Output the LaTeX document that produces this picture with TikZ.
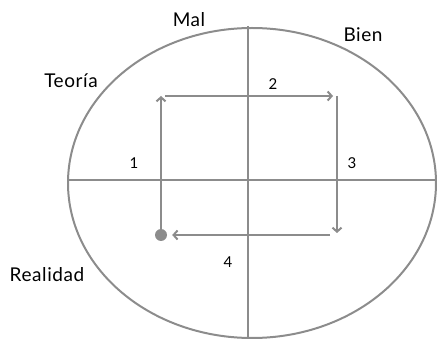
\documentclass[tikz,border=0pt]{standalone}
\usepackage{fontspec}
\setmainfont{Lato}[LetterSpace=3]
\usetikzlibrary{arrows.meta}
\definecolor{lncol}{HTML}{8C8C8C}
\begin{document}
\begin{tikzpicture}[x=1pt,y=-1pt,
  ln/.style={draw=lncol, line width=2pt},
  arr/.style={ln, -{Straight Barb[length=4pt,width=9pt,line width=2pt]}},
  lbl/.style={font=\fontsize{19}{22}\selectfont, text=black, inner sep=0},
  num/.style={font=\fontsize{15}{18}\selectfont, text=black, inner sep=0}]
\useasboundingbox (0,0) rectangle (437,339);
\draw[ln] (252,183) ellipse [x radius=184pt, y radius=155pt];
\coordinate (vt) at (248,26);
\coordinate (vb) at (248,339);
\coordinate (hl) at (68,180);
\coordinate (hr) at (436,180);
\draw[ln] (vt) -- (vb);
\draw[ln] (hl) -- (hr);
\node[circle, fill=lncol, minimum size=12pt, inner sep=0] (dot) at (161,235) {};
\coordinate (c1) at (161,96);
\coordinate (c2) at (337,96);
\coordinate (c3) at (337,235);
\draw[arr] (dot) -- (c1);
\draw[arr] ([xshift=4pt]c1) -- ([xshift=-4pt]c2);
\draw[arr] (c2) -- ([yshift=2pt]c3);
\draw[arr, shorten >=5pt] ([xshift=-7pt]c3) -- (dot);
\node[lbl] (mal) at (189,20) {Mal};
\node[lbl] (bien) at (363,35) {Bien};
\node[lbl] (teoria) at (71,81) {Teoría};
\node[lbl] (realidad) at (47,275) {Realidad};
\node[num] (n1) at (134,163) {1};
\node[num] (n2) at (273,84) {2};
\node[num] (n3) at (352,163) {3};
\node[num] (n4) at (228,262) {4};
\end{tikzpicture}
\end{document}
